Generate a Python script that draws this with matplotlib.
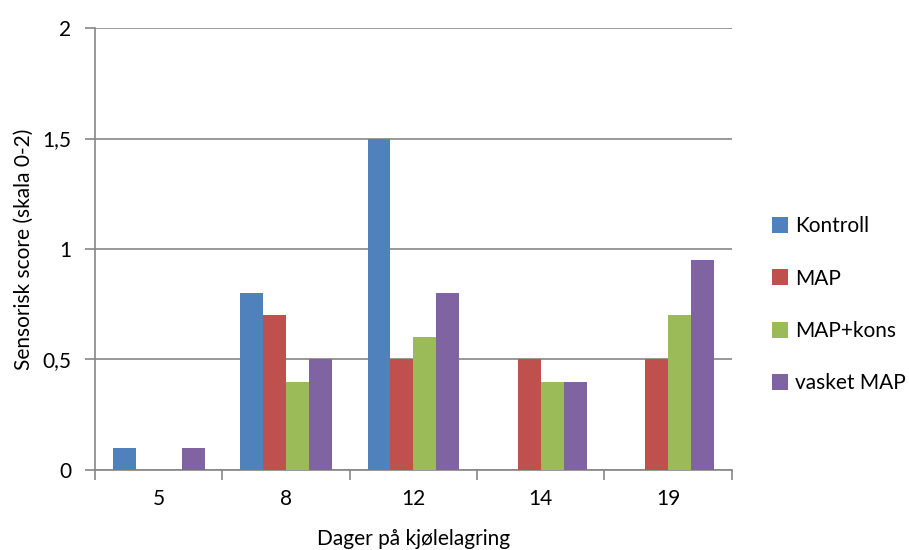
import numpy as np
import matplotlib.pyplot as plt

days = ["5", "8", "12", "14", "19"]
series = ["Kontroll", "MAP", "MAP+kons", "vasket MAP"]
kontroll = [0.1, 0.8, 1.5, 0.0, 0.0]
map_vals = [0.0, 0.7, 0.5, 0.5, 0.5]
map_kons = [0.0, 0.4, 0.6, 0.4, 0.7]
vasket_map = [0.1, 0.5, 0.8, 0.4, 0.95]
colors = ["#4f81bd", "#c0504d", "#9bbb59", "#8064a2"]

plt.rcParams["font.family"] = ["Lato", "DejaVu Sans"]

fig = plt.figure(figsize=(9.09, 5.5), dpi=100)
ax = fig.add_axes([0.1045, 0.1455, 0.7005, 0.8035])

x = np.arange(len(days))
w = 0.18
for i, (name, vals) in enumerate(zip(series, [kontroll, map_vals, map_kons, vasket_map])):
    ax.bar(x + (i - 1.5) * w, vals, width=w, color=colors[i], label=name, zorder=3)

ax.set_xlim(-0.5, len(days) - 0.5)
ax.set_ylim(0, 2)
ax.set_yticks([0, 0.5, 1, 1.5, 2])
ax.set_yticklabels(["0", "0,5", "1", "1,5", "2"], fontsize=15)
ax.yaxis.grid(True, color="#868686", linewidth=1.2, zorder=0)

ax.set_xticks(x)
ax.set_xticklabels(days, fontsize=15)
ax.tick_params(axis="x", length=0, pad=14)
ax.set_xticks(np.arange(-0.5, len(days)), minor=True)
ax.tick_params(axis="x", which="minor", length=7, color="#868686", width=1.2)
ax.tick_params(axis="y", length=7, color="#868686", width=1.2, pad=10)

for s in ["top", "right"]:
    ax.spines[s].set_visible(False)
for s in ["left", "bottom"]:
    ax.spines[s].set_color("#868686")
    ax.spines[s].set_linewidth(1.2)

ax.set_xlabel("Dager på kjølelagring", fontsize=15, labelpad=14)
ax.set_ylabel("Sensorisk score (skala 0-2)", fontsize=15, labelpad=6)

fig.legend(loc="center left", bbox_to_anchor=(0.849, 0.446), frameon=False,
           fontsize=15, handlelength=0.8, handleheight=0.8, handletextpad=0.3,
           labelspacing=1.55, borderpad=0, borderaxespad=0)

fig.savefig("out.png", dpi=100)
